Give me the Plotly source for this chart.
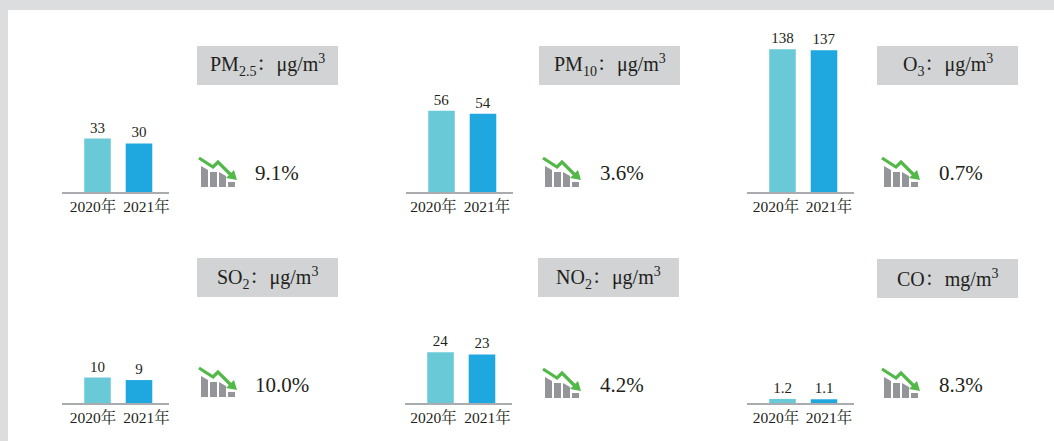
import plotly.graph_objects as go

W, H = 1054, 441

years = ["2020年", "2021年"]
pollutants = ["PM2.5", "PM10", "O3", "SO2", "NO2", "CO"]
values_2020 = [33, 56, 138, 10, 24, 1.2]
values_2021 = [30, 54, 137, 9, 23, 1.1]
labels_2020 = ["33", "56", "138", "10", "24", "1.2"]
labels_2021 = ["30", "54", "137", "9", "23", "1.1"]
changes = ["9.1%", "3.6%", "0.7%", "10.0%", "4.2%", "8.3%"]
headers = [
    "PM<sub>2.5</sub>：μg/m<sup>3</sup>",
    "PM<sub>10</sub>：μg/m<sup>3</sup>",
    "O<sub>3</sub>：μg/m<sup>3</sup>",
    "SO<sub>2</sub>：μg/m<sup>3</sup>",
    "NO<sub>2</sub>：μg/m<sup>3</sup>",
    "CO：mg/m<sup>3</sup>",
]

# layout (pixels)
axis_left = [62, 406, 747, 62, 405, 747]
axis_base = [192, 192, 192, 403, 403, 403]
px_per_unit = [1.62, 1.45, 1.035, 2.55, 2.11, 3.4]
tick_px_2020 = [31, 27.5, 29, 31, 28.5, 29]
tick_px_2021 = [84.5, 81, 82, 84.5, 82.5, 82]
box_left = [197, 539, 877, 197, 538, 877]
box_top = [46, 46, 46, 258, 258, 259]
icon_left = [199, 543, 882, 199, 543, 882]
icon_top = [157, 157, 157, 367, 368, 368]
pct_left = [255, 600, 939, 255, 600, 939]
pct_mid = [173, 173, 173, 385, 385, 385]

SERIF = "Liberation Serif, Noto Serif CJK SC, Noto Sans CJK SC, serif"
INK = "#231f20"
AXIS_W, PLOT_H = 107, 160
STEP = 41.5
ORIGIN = 35.5


def fx(p):
    return p / W


def fy(p):
    return 1 - p / H


def path(points):
    return "M" + " L".join(f"{fx(x):.5f},{fy(y):.5f}" for x, y in points) + " Z"


fig = go.Figure()
shapes = [dict(type="rect", xref="paper", yref="paper", x0=fx(8), x1=1, y0=0, y1=fy(10),
               fillcolor="white", line_width=0, layer="below")]
annotations = []
layout_axes = {}

for i, name in enumerate(pollutants):
    suffix = "" if i == 0 else str(i + 1)
    xa, ya = "x" + suffix, "y" + suffix
    lo = -(ORIGIN / STEP)
    hi = lo + AXIS_W / STEP
    fig.add_trace(go.Bar(
        x=[0, 1], y=[values_2020[i], values_2021[i]], name=name,
        width=0.64, xaxis=xa, yaxis=ya,
        marker=dict(color=["#69c9d6", "#1fa8e0"], line_width=0),
        text=[labels_2020[i], labels_2021[i]], textposition="outside",
        textfont=dict(family=SERIF, size=15, color=INK),
        cliponaxis=False, showlegend=False, hoverinfo="skip",
    ))
    layout_axes["xaxis" + suffix] = dict(
        domain=[fx(axis_left[i]), fx(axis_left[i] + AXIS_W)], range=[lo, hi],
        anchor=ya, tickmode="array",
        tickvals=[(tick_px_2020[i] - ORIGIN) / STEP, (tick_px_2021[i] - ORIGIN) / STEP],
        ticktext=years,
        ticks="", showgrid=False, zeroline=False, showline=True,
        linecolor="#a9abae", linewidth=2, ticklabelstandoff=-1,
        tickfont=dict(family=SERIF, size=15.5, color=INK),
    )
    layout_axes["yaxis" + suffix] = dict(
        domain=[fy(axis_base[i]), fy(axis_base[i] - PLOT_H)],
        range=[0, PLOT_H / px_per_unit[i]], anchor=xa, visible=False,
    )
    # header box
    bl, bt = box_left[i], box_top[i]
    shapes.append(dict(type="rect", xref="paper", yref="paper", x0=fx(bl), x1=fx(bl + 141),
                       y0=fy(bt + 39), y1=fy(bt), fillcolor="#d1d3d4", line_width=0, layer="below"))
    annotations.append(dict(text=headers[i], xref="paper", yref="paper", x=fx(bl + 70.5), y=fy(bt + 19.5),
                            xanchor="center", yanchor="middle", showarrow=False,
                            font=dict(family=SERIF, size=20, color=INK)))
    # percentage
    annotations.append(dict(text=changes[i], xref="paper", yref="paper", x=fx(pct_left[i]), y=fy(pct_mid[i]),
                            xanchor="left", yanchor="middle", showarrow=False, xshift=-2,
                            font=dict(family=SERIF, size=21, color=INK)))
    # trend icon
    ix, iy = icon_left[i], icon_top[i]
    for pts in ([(2, 9), (9, 13), (9, 30), (2, 30)],
                [(11, 15), (18, 15), (18, 30), (11, 30)],
                [(20, 15), (27, 19), (27, 30), (20, 30)],
                [(29, 25), (36, 25), (36, 30), (29, 30)]):
        shapes.append(dict(type="path", xref="paper", yref="paper",
                           path=path([(ix + a, iy + b) for a, b in pts]),
                           fillcolor="#939598", line_width=0))
    shapes.append(dict(type="path", xref="paper", yref="paper",
                       path="M" + " L".join(f"{fx(ix + a):.5f},{fy(iy + b):.5f}"
                                            for a, b in [(0, 1), (14, 10), (19, 5), (33, 19)]),
                       line=dict(color="#52b848", width=3.2), fillcolor="rgba(0,0,0,0)"))
    shapes.append(dict(type="path", xref="paper", yref="paper",
                       path=path([(ix + a, iy + b) for a, b in [(38, 23), (27, 21), (35, 13)]]),
                       fillcolor="#52b848", line_width=0))

fig.update_layout(
    width=W, height=H, margin=dict(l=0, r=0, t=0, b=0), autosize=False,
    paper_bgcolor="#dcddde", plot_bgcolor="rgba(0,0,0,0)",
    shapes=shapes, annotations=annotations, showlegend=False, barmode="overlay",
    **layout_axes,
)

fig.write_html("out.html", config={"displayModeBar": False},
               post_script="document.body.style.margin='0';document.body.style.overflow='hidden';")
